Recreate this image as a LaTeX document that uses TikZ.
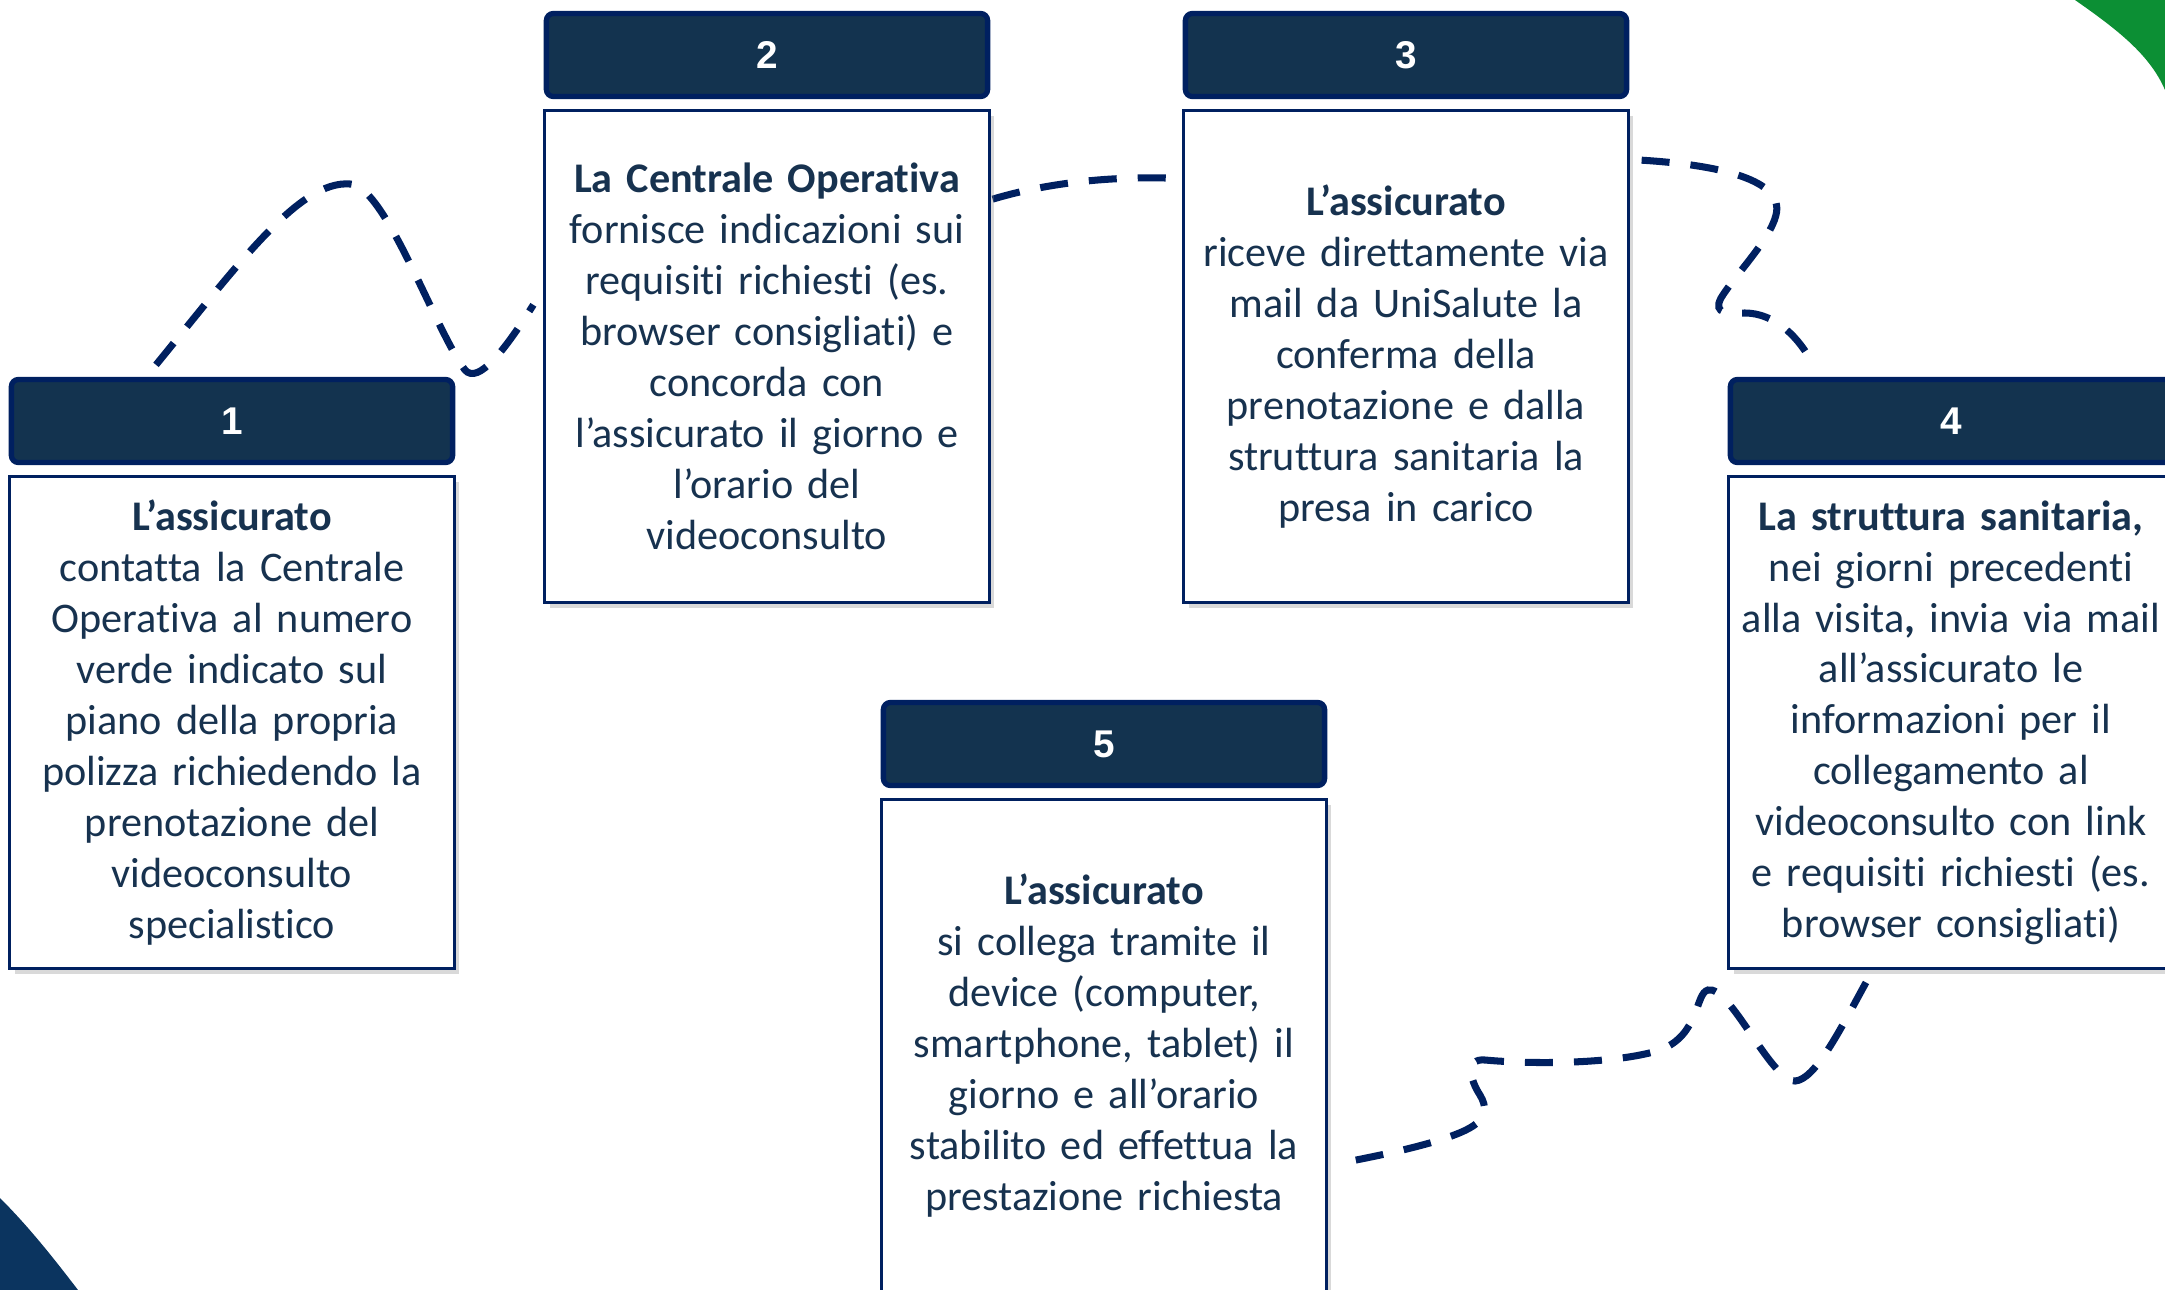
\documentclass[tikz,border=0pt]{standalone}
\usepackage{fontspec}
\setmainfont{Carlito}[Ligatures={NoCommon,NoContextual,NoRare},RawFeature={-liga;-clig;-calt;-dlig}]
\newfontfamily\numfont{Liberation Sans}
\usetikzlibrary{positioning, calc, shadows, backgrounds}
\definecolor{hdrnavy}{HTML}{13334F}
\definecolor{linenavy}{HTML}{002060}
\definecolor{txtnavy}{HTML}{17324F}
\definecolor{leafgreen}{HTML}{0C8F34}
\definecolor{cornernavy}{HTML}{0B345F}
\tikzset{
  hdr/.style={rectangle,rounded corners=2pt,draw=linenavy,line width=1.5pt,fill=hdrnavy,
    minimum width=4.41cm,minimum height=0.83cm,inner sep=0pt,text=white,
    font=\numfont\fontsize{11}{13}\selectfont\bfseries},
  bdy/.style={rectangle,draw=linenavy,line width=0.85pt,fill=white,
    minimum width=4.44cm,minimum height=4.92cm,text width=4.3cm,inner sep=0.07cm,
    align=center,text=txtnavy,
    drop shadow={shadow xshift=0.05cm,shadow yshift=-0.05cm,opacity=0.3}},
  trail/.style={draw=linenavy,line width=2pt,dash pattern=on 0.28cm off 0.21cm},
}

\begin{document}
\begin{tikzpicture}[x=0.01cm, y=-0.01cm, font=\fontsize{12}{14.5}\selectfont]
  \useasboundingbox (0,0) rectangle (2165,1290);
  \clip (0,0) rectangle (2165,1290);

  % steps
  \node[hdr] (hd1) at (232,421) {1};
  \node[bdy, below=0.1cm of hd1] (bd1)
    {\textbf{L’assicurato}\\ contatta la Centrale\\ Operativa al numero\\ verde indicato sul\\
     piano della propria\\ polizza richiedendo la\\ prenotazione del\\ videoconsulto\\ specialistico};
  \node[hdr] (hd2) at (767,55) {2};
  \node[bdy, below=0.1cm of hd2] (bd2)
    {\textbf{La Centrale Operativa}\\ fornisce indicazioni sui\\ requisiti richiesti (es.\\
     browser consigliati) e\\ concorda con\\ l’assicurato il giorno e\\ l’orario del\\ videoconsulto};
  \node[hdr] (hd3) at (1406,55) {3};
  \node[bdy, below=0.1cm of hd3] (bd3)
    {\textbf{L’assicurato}\\ riceve direttamente via\\ mail da UniSalute la\\ conferma della\\
     prenotazione e dalla\\ struttura sanitaria la\\ presa in carico};
  \node[hdr] (hd4) at (1951,421) {4};
  \node[bdy, below=0.1cm of hd4] (bd4)
    {\textbf{La struttura sanitaria,}\\ nei giorni precedenti\\ alla visita\textbf{,} invia via mail\\
     all’assicurato le\\ informazioni per il\\ collegamento al\\ videoconsulto con link\\
     e requisiti richiesti (es.\\ browser consigliati)};
  \node[hdr] (hd5) at (1104,744) {5};
  \node[bdy, below=0.1cm of hd5] (bd5)
    {\textbf{L’assicurato}\\ si collega tramite il\\ device (computer,\\ smartphone, tablet) il\\
     giorno e all’orario\\ stabilito ed effettua la\\ prestazione richiesta};

  \begin{scope}[on background layer]
    \clip (0,0) rectangle (2165,1290);
    \fill[leafgreen] (2075,0) .. controls (2118,30) and (2150,55) .. (2165,90) -- (2165,0) -- cycle;
    \fill[cornernavy] (0,1198) .. controls (28,1226) and (52,1256) .. (78,1290) -- (0,1290) -- cycle;
    % dashed trail between the steps
    \draw[trail] ($(hd1.north)+(-76,-12)$) .. controls (240,262) and (300,180) .. (350,184)
      .. controls (385,185) and (435,330) .. (465,370)
      .. controls (478,385) and (505,350) .. ($(bd2.west)+(-10,-52)$);
    \draw[trail] ($(bd2.north east)+(2,90)$) .. controls (1040,185) and (1100,176) .. ($(bd3.north west)+(-10,69)$);
    \draw[trail] ($(bd3.north east)+(12,51)$) .. controls (1720,165) and (1785,180) .. (1776,215)
      .. controls (1770,240) and (1735,275) .. (1721,298)
      .. controls (1712,315) and (1730,313) .. (1745,313)
      .. controls (1775,313) and (1800,338) .. ($(hd4.north)+(-138,-12)$);
    \draw[trail] ($(bd4.south)+(-85,12)$) .. controls (1840,1030) and (1815,1080) .. (1795,1081)
      .. controls (1770,1080) and (1730,985) .. (1708,990)
      .. controls (1695,993) and (1700,1035) .. (1660,1050)
      .. controls (1620,1063) and (1540,1065) .. (1485,1060)
      .. controls (1465,1058) and (1470,1080) .. (1480,1095)
      .. controls (1495,1120) and (1470,1130) .. (1440,1140)
      .. controls (1400,1152) and (1365,1158) .. ($(bd5.east)+(10,118)$);
  \end{scope}
\end{tikzpicture}
\end{document}
